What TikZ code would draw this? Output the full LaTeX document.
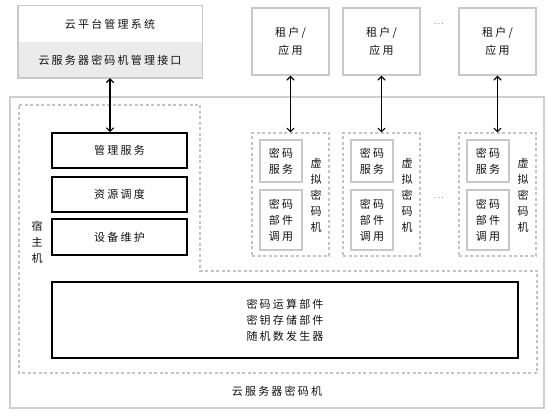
\documentclass[tikz,border=0pt]{standalone}
\usepackage{fontspec}
\setmainfont{Noto Sans CJK SC}[LetterSpace=20]
\usetikzlibrary{arrows}
\usetikzlibrary{calc}
\definecolor{frameGray}{HTML}{CFCFCF}
\definecolor{boxGray}{HTML}{C8C8C8}
\definecolor{dashGray}{HTML}{C4C4C4}
\definecolor{bandGray}{HTML}{EBEBEB}
\definecolor{textGray}{HTML}{111111}
\tikzset{
	every node/.style={font=\fontsize{11}{16}\selectfont, text=textGray, inner sep=0pt},
	tenant/.style={draw=boxGray, line width=1.4pt, minimum width=77pt, minimum height=67pt, align=center, font=\fontsize{11}{18}\selectfont},
	vmbox/.style={draw=dashGray, line width=1.2pt, dash pattern=on 3pt off 2.5pt, minimum width=77pt, minimum height=123pt},
	partbox/.style={draw=boxGray, line width=1.4pt, minimum width=42pt, align=center},
	hostbox/.style={draw=black, line width=1.5pt, minimum width=135pt, minimum height=35pt, align=center},
	link/.style={<->, >=angle 90, line width=1.1pt, black}
}
\newcommand{\drawTenant}[2]{
	\node[tenant] (T#1) at (#2,41.5) {租户/\\应用};
}
\newcommand{\drawVm}[2]{
	\node[vmbox] (VM#1) at (#2,194.5) {};
	\node[partbox, minimum height=42pt] (VM#1_SVC) at ($(VM#1)+(-9.5,-33.5)$) {密码\\服务};
	\node[partbox, minimum height=60pt] (VM#1_CALL) at ($(VM#1)+(-9.5,25.5)$) {密码\\部件\\调用};
	\node[align=center] (VM#1_LBL) at ($(VM#1)+(25.5,0.5)$) {虚\\拟\\密\\码\\机};
	\draw[link] (T#1.south) -- (VM#1.north);
}

\begin{document}
\begin{tikzpicture}[x=1pt, y=-1pt]
		\useasboundingbox (0,0) rectangle (555,417);

		\node[draw=frameGray, line width=1.5pt, minimum width=534pt, minimum height=311pt] (SCM) at (277,252.5) {};
		\node (SCM_LBL) at (277,391) {云服务器密码机};

		\node[fill=bandGray, minimum width=184pt, minimum height=36pt] (IF) at (110,60) {云服务器密码机管理接口};
		\node[minimum width=184pt, minimum height=36pt] (SYS) at (110,24) {云平台管理系统};
		\draw[draw=boxGray, line width=1.4pt] (SYS.north west) rectangle (IF.south east);

		\coordinate (H_1) at (19,105);
		\coordinate (H_2) at (200,105);
		\coordinate (H_3) at (200,271);
		\coordinate (H_4) at (537,271);
		\coordinate (H_5) at (537,373);
		\coordinate (H_6) at (19,373);
		\draw[draw=dashGray, line width=1.2pt, dash pattern=on 3pt off 2.5pt]
			(H_1) -- (H_2) -- (H_3) -- (H_4) -- (H_5) -- (H_6) -- cycle;
		\node[align=center] (HOST_LBL) at (37,242) {宿\\主\\机};

		\node[hostbox] (MGMT) at (119.5,150.5) {管理服务};
		\node[hostbox] (SCHED) at (119.5,194.5) {资源调度};
		\node[hostbox, minimum height=36pt] (MAINT) at (119.5,237) {设备维护};
		\draw[link] (IF.south) -- (IF.south |- MGMT.north);

		\node[hostbox, minimum width=466pt, minimum height=76pt] (CORE) at (285,320) {密码运算部件\\密钥存储部件\\随机数发生器};

		\drawTenant{1}{290.5}
		\drawTenant{2}{381.5}
		\drawTenant{3}{497.5}
		\drawVm{1}{290.5}
		\drawVm{2}{381.5}
		\drawVm{3}{497.5}

		\node[text=gray, font=\fontsize{8}{10}\selectfont] (DOTS_T) at (439,24) {...};
		\node[text=gray, font=\fontsize{8}{10}\selectfont] (DOTS_V) at (439,198) {...};

	\end{tikzpicture}
\end{document}
